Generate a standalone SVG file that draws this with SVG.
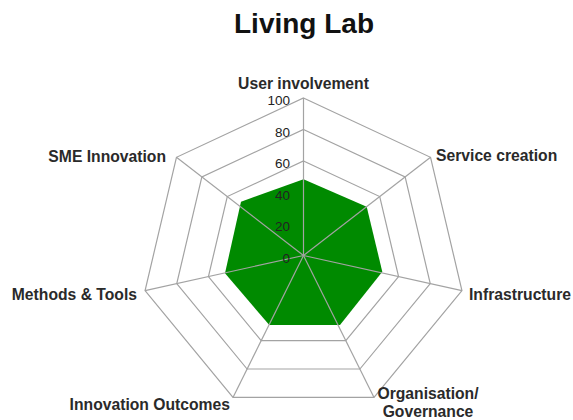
<svg xmlns="http://www.w3.org/2000/svg" width="573" height="420" viewBox="0 0 573 420">
<style>
.ring{fill:none;stroke:#a3a3a3;stroke-width:1.2}
.spoke{stroke:#a3a3a3;stroke-width:1.2}
.axl{font-family:"Liberation Sans",Arial,sans-serif;font-weight:bold;font-size:15.7px;fill:#2a2a2a}
.tick{font-family:"Liberation Sans",Arial,sans-serif;font-size:13.5px;fill:#222;text-anchor:end}
.title{font-family:"Liberation Sans",Arial,sans-serif;font-weight:bold;font-size:28px;fill:#111;text-anchor:middle}
</style>
<rect width="573" height="420" fill="#fff"/>
<text class="title" x="304" y="33">Living Lab</text>
<g id="grid">
<polygon class="ring" points="303.5,98 430.55,157.3 461.93,290.55 374.01,397.4 232.99,397.4 145.07,290.55 176.45,157.3"/>
<polygon class="ring" points="303.5,129.5 405.14,176.94 430.24,283.54 359.9,369.02 247.1,369.02 176.76,283.54 201.86,176.94"/>
<polygon class="ring" points="303.5,161 379.73,196.58 398.56,276.53 345.8,340.64 261.2,340.64 208.44,276.53 227.27,196.58"/>
<polygon class="ring" points="303.5,192.5 354.32,216.22 366.87,269.52 331.7,312.26 275.3,312.26 240.13,269.52 252.68,216.22"/>
<polygon class="ring" points="303.5,224 328.91,235.86 335.19,262.51 317.6,283.88 289.4,283.88 271.81,262.51 278.09,235.86"/>
</g>
<g id="data">
<polygon points="303.5,179.3 366.7,206.7 382.3,271.7 340,325 269.3,325 225,273.3 241,201.7" fill="#008a00"/>
</g>
<g id="connectors">
<line class="spoke" x1="303.5" y1="255.5" x2="303.5" y2="98"/>
<line class="spoke" x1="303.5" y1="255.5" x2="430.55" y2="157.3"/>
<line class="spoke" x1="303.5" y1="255.5" x2="461.93" y2="290.55"/>
<line class="spoke" x1="303.5" y1="255.5" x2="374.01" y2="397.4"/>
<line class="spoke" x1="303.5" y1="255.5" x2="232.99" y2="397.4"/>
<line class="spoke" x1="303.5" y1="255.5" x2="145.07" y2="290.55"/>
<line class="spoke" x1="303.5" y1="255.5" x2="176.45" y2="157.3"/>
</g>
<g id="ticks">
<text class="tick" x="290" y="105.2">100</text>
<text class="tick" x="290" y="136.7">80</text>
<text class="tick" x="290" y="168.2">60</text>
<text class="tick" x="290" y="199.7">40</text>
<text class="tick" x="290" y="231.2">20</text>
<text class="tick" x="290" y="262.7">0</text>
</g>
<g id="user-involvement"><text class="axl" x="303.5" y="89" text-anchor="middle">User involvement</text></g>
<g id="service-creation"><text class="axl" x="436" y="161">Service creation</text></g>
<g id="infrastructure"><text class="axl" x="469" y="300">Infrastructure</text></g>
<g id="organisation-governance"><text class="axl" x="428" y="399" text-anchor="middle">Organisation/</text><text class="axl" x="428" y="417" text-anchor="middle">Governance</text></g>
<g id="innovation-outcomes"><text class="axl" x="230" y="410" text-anchor="end">Innovation Outcomes</text></g>
<g id="methods-tools"><text class="axl" x="137" y="300" text-anchor="end">Methods &amp; Tools</text></g>
<g id="sme-innovation"><text class="axl" x="166" y="161.5" text-anchor="end">SME Innovation</text></g>
</svg>
